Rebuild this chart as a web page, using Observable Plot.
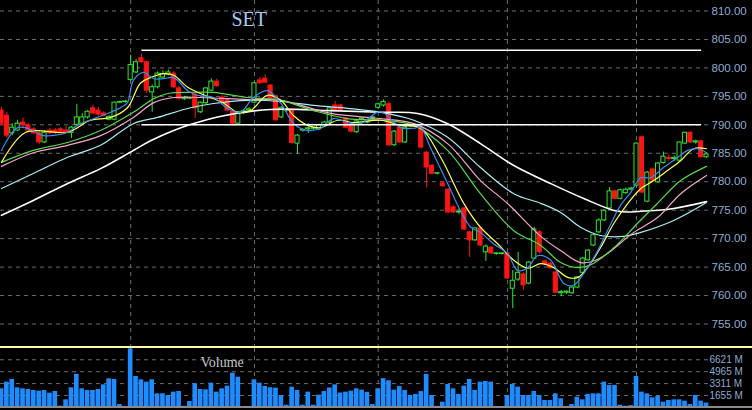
<!DOCTYPE html>
<html><head><meta charset="utf-8">
<script src="https://cdn.jsdelivr.net/npm/d3@7"></script>
<script src="https://cdn.jsdelivr.net/npm/@observablehq/plot@0.6"></script>
<style>
html,body{margin:0;padding:0;background:#000;}
#chart{position:relative;width:752px;height:410px;overflow:hidden;background:#000;}
#sep{height:2px;background:#ffffa8;}
#base{position:absolute;left:0;top:406px;width:752px;height:2px;background:#8a8a8a;}
svg{display:block;}
</style></head><body>
<div id="chart"><div id="price"></div><div id="sep"></div><div id="vol"></div><div id="base"></div></div>
<script>
// ---- data ----
const title = "SET";
const volumeTitle = "Volume";
const opens  = [792.5,791.6,788.5,789.0,790.4,789.9,789.2,788.5,786.9,789.0,789.0,789.2,789.0,788.6,790.0,790.2,791.3,792.9,792.5,792.0,790.9,790.9,793.9,794.0,797.9,799.2,801.7,801.0,795.7,796.6,798.3,798.8,799.0,796.4,794.5,794.6,795.3,792.2,793.8,796.0,797.6,794.8,794.3,792.3,790.2,792.2,792.5,793.9,797.8,798.1,796.9,795.0,791.3,792.5,792.5,786.7,789.0,789.2,789.3,789.2,789.9,790.4,793.4,793.4,791.1,789.9,788.7,790.9,790.4,791.0,793.0,793.4,793.6,786.4,789.5,786.9,789.8,789.9,789.5,785.1,782.8,781.4,779.7,778.6,775.5,774.6,775.3,771.1,769.7,771.8,767.6,768.4,767.3,767.3,767.4,761.2,762.8,763.7,762.1,766.5,771.1,766.0,765.6,764.05,760.4,760.5,760.4,761.4,764.0,766.2,768.8,771.1,773.2,775.3,778.3,777.0,778.0,778.6,779.3,787.8,776.5,782.15,779.9,783.3,784.2,784.0,783.7,786.7,788.6,786.9,787.1,784.3];
const highs  = [793.0,792.2,790.2,790.8,791.2,790.2,789.5,788.8,789.0,789.4,789.3,789.5,789.7,789.7,793.6,792.0,792.5,793.4,793.0,792.3,791.6,794.0,794.2,794.3,802.2,801.5,802.4,801.2,797.0,799.3,799.5,799.6,799.3,796.8,795.0,794.9,795.5,794.0,796.5,798.1,798.0,795.2,794.5,792.5,792.3,792.6,793.0,797.5,798.3,798.8,797.1,795.2,793.2,792.8,792.8,788.3,789.3,790.2,789.6,790.1,790.6,793.1,794.1,793.6,791.3,790.1,790.8,791.2,791.0,791.5,793.8,794.4,794.0,789.0,789.7,789.8,790.0,790.1,789.8,785.3,783.0,781.6,780.0,778.8,775.8,775.2,775.5,771.3,771.9,772.0,768.9,768.6,767.5,767.5,767.6,764.4,767.6,764.0,766.0,772.0,771.4,766.2,765.8,764.3,760.9,760.8,761.6,763.3,766.7,768.1,770.8,773.5,775.1,779.0,778.5,778.7,778.9,779.0,786.8,788.0,781.8,782.4,783.3,785.2,784.7,784.5,787.0,788.7,788.8,787.3,787.3,784.9];
const lows   = [789.8,787.6,788.1,788.8,789.5,788.8,788.3,786.5,786.7,788.3,788.3,788.5,788.4,787.6,789.8,790.0,791.0,791.8,791.5,791.4,790.7,790.7,793.7,793.8,797.6,799.0,800.8,795.5,792.2,796.3,798.0,798.6,796.4,794.3,794.3,794.4,791.1,792.0,793.6,795.8,796.6,793.7,792.3,790.0,790.0,791.8,792.2,793.7,797.1,797.4,794.4,790.6,791.1,792.2,786.6,784.8,788.7,788.5,789.0,789.0,789.7,790.2,792.3,792.3,789.4,788.6,788.5,790.7,790.2,790.8,792.7,793.1,786.2,786.2,786.7,786.7,789.6,789.7,785.8,778.9,781.2,781.2,779.0,774.4,774.4,774.2,771.4,766.7,769.5,768.6,766.0,767.2,767.1,767.1,762.8,757.7,762.5,760.9,761.9,766.3,767.3,765.3,764.6,760.4,759.8,760.2,760.2,761.2,763.8,766.0,768.6,770.9,773.0,775.1,776.8,776.8,777.8,778.4,779.1,777.9,776.3,780.0,779.7,783.1,783.6,783.6,783.5,786.5,786.7,786.6,784.2,784.1];
const closes = [790.2,788.1,789.5,790.2,789.9,789.0,788.5,786.9,788.6,788.5,788.6,788.7,788.6,789.5,791.3,791.3,792.3,792.0,791.8,791.6,791.4,793.9,794.0,794.1,800.5,801.0,801.0,796.0,796.6,799.0,798.9,799.2,796.6,794.6,794.7,794.7,792.9,793.9,796.4,797.6,796.8,793.9,792.5,790.2,792.2,792.4,792.7,797.3,797.3,797.4,794.6,790.8,793.0,792.6,786.8,788.1,789.1,789.4,789.4,789.9,790.4,792.9,792.5,792.5,789.5,788.8,790.6,791.1,790.8,791.3,793.6,794.0,786.4,788.8,786.9,789.5,789.9,790.0,786.0,782.5,781.4,781.5,779.2,774.6,774.6,774.7,771.6,769.7,771.8,768.8,768.6,767.4,767.4,767.4,763.0,762.6,764.0,761.8,765.8,771.6,767.6,765.5,764.8,760.5,760.6,760.7,761.4,763.2,766.5,767.9,770.6,773.2,774.9,778.3,777.0,778.5,778.6,778.8,786.7,778.1,781.6,780.2,783.2,784.4,784.0,784.2,786.9,788.6,786.9,787.1,784.3,784.8];
const volumes = [2583,3510,3881,2722,2583,2490,2351,2258,2351,1980,2212,171,1053,2722,4591,2583,2351,2351,2490,3139,3974,3881,403,125,8147,4298,3835,3510,3835,1887,1887,1655,2119,2212,150,821,3278,2490,2444,3371,2119,2583,2953,4762,4205,120,100,3835,3371,2907,2722,2675,1655,300,2815,2351,300,2119,300,1700,2200,2700,3139,2000,2119,2258,2583,2400,2100,400,2583,4000,3700,2400,2900,2350,1655,1800,2200,4591,1655,150,728,3200,2583,1800,2953,3881,2351,3510,3600,3510,100,100,1655,3200,2815,1655,1655,2212,1655,960,960,1887,1192,125,403,1424,1053,1800,1887,1887,3510,3046,3046,300,150,250,4298,2119,1887,1331,1516,728,960,1053,1053,866,403,1655,866,600];
const priceTicks = [755,760,765,770,775,780,785,790,795,800,805,810];
const volumeTicks = [1655,3311,4965,6621];
const monthStarts = [24,47,70,94,118];
const levelValues = [803.1,790.0];
const levelStart = [26,26];
const levelEnd = [130,130];
// moving averages read as [bar index, value]
const maBlue = [[0,785.5],[3,789.5],[5.9,789.0],[7.8,788.1],[12.3,788.7],[14.1,789.9],[17.8,791.3],[19.7,792.0],[22.1,793.0],[23.4,793.9],[24.5,797.8],[26.4,799.2],[28.3,798.1],[30.1,798.1],[32,798.3],[34.6,796.0],[36.4,795.2],[39.4,794.8],[42,792.9],[44.4,792.2],[46.8,794.8],[49.4,796.0],[51.9,793.8],[54.3,790.2],[56.9,789.0],[59.3,789.4],[61.7,791.1],[64.3,790.4],[66.7,790.2],[70.4,792.3],[74.2,789.5],[76.6,789.4],[77.9,789.5],[79.7,786.0],[82.9,779.7],[85.3,774.9],[87.2,772.0],[89,771.1],[91.4,769.1],[94,767.4],[95.9,764.4],[97.8,764.9],[99.6,767.0],[102,766.3],[104.5,762.1],[106.3,761.8],[108.2,763.9],[110.8,767.9],[112.6,771.4],[115,775.8],[116.9,778.1],[118.8,780.7],[120.6,780.7],[123,782.5],[125.7,784.3],[127.5,785.5],[129.4,785.8],[131,785.1]];
const maYellow = [[0,783.4],[4.5,788.7],[12.3,788.7],[16.5,790.8],[20.3,791.3],[23.4,793.0],[25.8,797.3],[27.7,798.3],[30.1,799.0],[32,798.7],[34.6,796.6],[37,795.5],[41.3,793.8],[43.9,792.2],[46.3,792.5],[49.4,795.2],[51.9,794.3],[54.3,791.6],[56.9,789.9],[59.3,789.5],[62.5,790.8],[65.4,790.4],[70.4,790.8],[74.2,789.9],[77.9,789.4],[81.6,784.3],[85.9,776.2],[89,772.0],[92.2,769.1],[95.2,766.2],[97.8,764.8],[100.2,765.6],[102.6,764.9],[105.2,763.2],[107.1,763.2],[108.9,764.9],[111.3,768.4],[113.8,772.7],[116.4,776.2],[118.8,778.8],[121.2,780.2],[123.8,782.0],[126.2,783.7],[128.6,785.8],[131,785.8]];
const maGreen = [[0,783.4],[5.9,785.5],[12.3,786.9],[18.4,789.0],[24.5,792.2],[28.3,794.6],[30.9,795.5],[35.1,795.7],[39.4,795.7],[45.7,794.8],[51.9,794.3],[58,792.5],[64.3,791.1],[70.4,790.8],[76.6,789.9],[82.9,785.5],[89,777.9],[95.2,771.4],[100.2,768.8],[103.9,765.8],[107.1,764.9],[109.5,765.4],[113.8,768.4],[118.2,772.7],[121.9,776.2],[126.2,780.2],[131,782.7]];
const maPink = [[0,782.7],[5.9,785.1],[12.3,786.4],[18.4,788.1],[24.5,791.3],[28.3,793.9],[32,794.8],[37,794.8],[45.7,794.45],[51.9,794.3],[61.2,792.0],[70.4,791.1],[76.6,790.2],[82.9,786.7],[89,780.2],[94,776.2],[100.2,770.4],[103.9,767.9],[107.6,765.8],[110.4,766.2],[112.6,767.4],[117.5,771.1],[121.9,773.7],[126.2,777.9],[131,781.1]];
const maCyan = [[0,778.8],[5.9,781.45],[12.3,784.3],[18.4,786.4],[24.5,790.2],[29,791.3],[35.1,793.0],[39.4,793.75],[45.7,794.3],[51.9,794.1],[58,793.4],[64.3,792.9],[70.4,792.2],[76.6,790.8],[82.9,787.8],[89,782.5],[95.2,777.9],[100.2,776.2],[103.9,774.6],[107.6,772.0],[111.3,770.55],[115.6,770.4],[118.8,771.1],[124.9,773.2],[131,776.35]];
const maWhite = [[0,774.1],[5.9,776.7],[12.3,779.7],[18.4,782.3],[24.5,785.5],[27.7,787.2],[32,789.0],[35.1,790.05],[41.3,791.6],[50,792.7],[61.2,792.5],[70.4,792.2],[77.3,792.0],[82.9,790.2],[89,786.7],[95.2,782.85],[102,779.7],[108.2,777.05],[114.5,774.8],[118.8,774.8],[124.9,775.3],[131,776.5]];

// ---- styles ----
const UP = "#2ee62e", DOWN = "#ff1414", GRID = "#6c6c6c", LABEL = "#8eaad0";
const axisFont = "'Liberation Sans Narrow','Arial Narrow','Liberation Sans',Arial,sans-serif";
const N = closes.length;
const candles = opens.map((o, i) => ({i, open: o, high: highs[i], low: lows[i], close: closes[i], up: closes[i] >= o}));
const vols = volumes.map((v, i) => ({i, v}));
const levels = levelValues.map((v, k) => ({v, a: levelStart[k], b: levelEnd[k]}));
const half = 0.38;
const xScale = {domain: [0, N - 1], range: [1, 706]};

const price = Plot.plot({
  width: 752, height: 346,
  marginLeft: 0, marginRight: 44, marginTop: 0, marginBottom: 0,
  style: {background: "#000", overflow: "visible", fontFamily: axisFont},
  x: {...xScale, axis: null},
  y: {domain: [755, 810], range: [323.5, 10.5], axis: null},
  marks: [
    Plot.ruleY(priceTicks, {stroke: GRID, strokeDasharray: "4,4"}),
    Plot.ruleX(monthStarts, {stroke: GRID, strokeDasharray: "4,4"}),
    Plot.ruleX(candles, {x: "i", y1: "low", y2: "high", stroke: d => d.up ? UP : DOWN, strokeWidth: 1}),
    Plot.rect(candles, {x1: d => d.i - half, x2: d => d.i + half, y1: "open", y2: "close",
      fill: d => d.up ? "#000" : DOWN, stroke: d => d.up ? UP : DOWN, strokeWidth: 1}),
    Plot.line(maWhite, {x: "0", y: "1", stroke: "#ffffff", strokeWidth: 1.6, curve: "catmull-rom"}),
    Plot.line(maCyan, {x: "0", y: "1", stroke: "#a8eef4", strokeWidth: 1.2, curve: "catmull-rom"}),
    Plot.line(maPink, {x: "0", y: "1", stroke: "#f4a6cc", strokeWidth: 1.2, curve: "catmull-rom"}),
    Plot.line(maGreen, {x: "0", y: "1", stroke: "#58d848", strokeWidth: 1.2, curve: "catmull-rom"}),
    Plot.line(maYellow, {x: "0", y: "1", stroke: "#ffff5a", strokeWidth: 1.2, curve: "catmull-rom"}),
    Plot.line(maBlue, {x: "0", y: "1", stroke: "#3a8cf0", strokeWidth: 1.2, curve: "catmull-rom"}),
    Plot.link(levels, {x1: "a", x2: "b", y1: "v", y2: "v", stroke: "#ffffff", strokeWidth: 1.5}),
    Plot.axisY(priceTicks, {anchor: "right", tickSize: 0, tickPadding: 3, tickFormat: d => d.toFixed(2),
      fill: LABEL, fontSize: 11.5, label: null}),
    Plot.text([title], {frameAnchor: "top-left", dx: 231, dy: 25, lineAnchor: "bottom", textAnchor: "start",
      fontSize: 20, fontFamily: "'Liberation Serif','DejaVu Serif',serif", fill: "#a6c6ee"})
  ]
});
document.getElementById("price").appendChild(price);

const volume = Plot.plot({
  width: 752, height: 62,
  marginLeft: 0, marginRight: 44, marginTop: 0, marginBottom: 0,
  style: {background: "#000", overflow: "visible", fontFamily: axisFont},
  x: {...xScale, axis: null},
  y: {domain: [0, 8190], range: [58.9, 0], axis: null},
  marks: [
    Plot.ruleY(volumeTicks, {stroke: GRID, strokeDasharray: "4,4"}),
    Plot.ruleX(monthStarts, {stroke: GRID, strokeDasharray: "4,4"}),
    Plot.rect(vols, {x1: d => d.i - 0.43, x2: d => d.i + 0.43, y1: 0, y2: "v", fill: "#1e8cff"}),
    Plot.axisY(volumeTicks, {anchor: "right", tickSize: 0, tickPadding: 1, tickFormat: d => `${d} M`,
      fill: LABEL, fontSize: 10, label: null}),
    Plot.text([volumeTitle], {frameAnchor: "top-left", dx: 200, dy: 18, lineAnchor: "bottom", textAnchor: "start",
      fontSize: 14, fontFamily: "'Liberation Serif','DejaVu Serif',serif", fill: "#c4c4c4"})
  ]
});
document.getElementById("vol").appendChild(volume);
</script>
</body></html>
